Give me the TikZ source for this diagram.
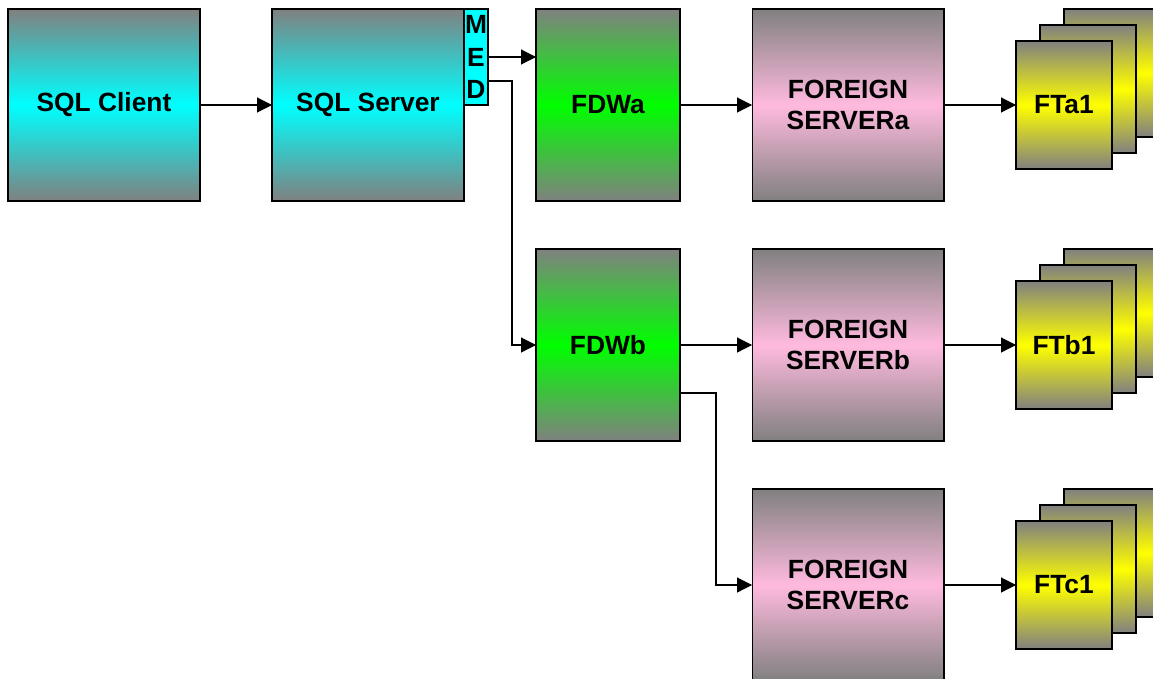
\documentclass[tikz,border=0pt]{standalone}
\usepackage{fontspec}
\setmainfont{Liberation Sans}
\usetikzlibrary{arrows.meta}

\definecolor{sqlcyan}{RGB}{0,255,255}
\definecolor{fdwgreen}{RGB}{0,255,0}
\definecolor{srvpink}{RGB}{255,186,222}
\definecolor{ftyellow}{RGB}{255,255,0}
\definecolor{shadegray}{RGB}{128,128,128}

\tikzset{
  box/.style={draw, line width=0.6pt, inner sep=0pt, outer sep=0pt, align=center,
    font=\bfseries\fontsize{15}{18}\selectfont,
    top color=shadegray, bottom color=shadegray},
  sqlbox/.style={box, middle color=sqlcyan, minimum width=3.84cm, minimum height=3.84cm},
  fdwbox/.style={box, middle color=fdwgreen, minimum width=2.88cm, minimum height=3.84cm},
  srvbox/.style={box, middle color=srvpink, minimum width=3.84cm, minimum height=3.84cm},
  ftbox/.style={box, middle color=ftyellow, minimum width=1.92cm, minimum height=2.56cm},
  medbox/.style={draw, line width=0.6pt, fill=sqlcyan, inner sep=0pt, outer sep=0pt,
    minimum width=0.48cm, minimum height=1.92cm, align=center,
    font=\bfseries\fontsize{15}{18.5}\selectfont},
  arr/.style={line width=0.6pt, -{Triangle[length=8.5pt,width=8.5pt]}}
}

\begin{document}
\begin{tikzpicture}[x=0.02cm, y=-0.02cm]
\useasboundingbox (0,0) rectangle (1153,679);

%sql side
\node[sqlbox] (client) at (104,105) {SQL Client};
\node[sqlbox] (server) at (368,105) {SQL Server};
\node[medbox] (med) at (476,57) {M\\E\\D};
\coordinate (medD) at (488,81);

%wrappers
\node[fdwbox] (fdwa) at (608,105) {FDWa};
\node[fdwbox] (fdwb) at (608,345) {FDWb};
\coordinate (fdwbout) at (680,393);

%foreign servers
\node[srvbox] (srva) at (848,105) {FOREIGN\\SERVERa};
\node[srvbox] (srvb) at (848,345) {FOREIGN\\SERVERb};
\node[srvbox] (srvc) at (848,585) {FOREIGN\\SERVERc};

%foreign tables, back pages first
\foreach \y/\name in {105/a, 345/b, 585/c}{
  \node[ftbox] (ft\name back) at (1112,\y-32) {};
  \node[ftbox] (ft\name mid) at (1088,\y-16) {};
}
\node[ftbox] (fta) at (1064,105) {FTa1};
\node[ftbox] (ftb) at (1064,345) {FTb1};
\node[ftbox] (ftc) at (1064,585) {FTc1};

%connectors
\draw[arr] (client) -- (server);
\draw[arr] (med.east) -- (fdwa.west |- med.east);
\draw[arr] (medD) -- ++(24,0) |- (fdwb.west);
\draw[arr] (fdwa) -- (srva);
\draw[arr] (fdwb) -- (srvb);
\draw[arr] (fdwbout) -- ++(36,0) |- (srvc.west);
\draw[arr] (srva) -- (fta);
\draw[arr] (srvb) -- (ftb);
\draw[arr] (srvc) -- (ftc);
\end{tikzpicture}
\end{document}
